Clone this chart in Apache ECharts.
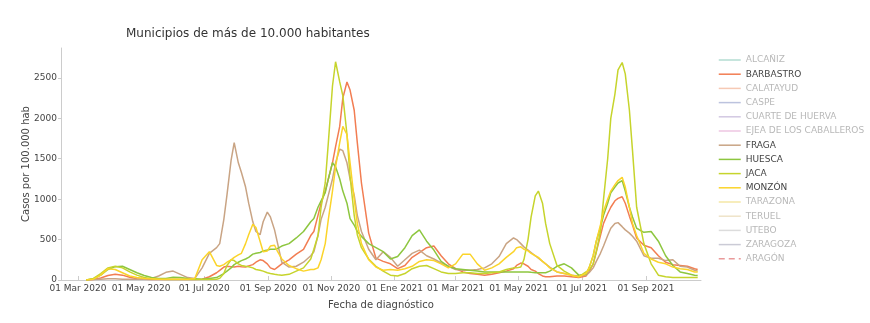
<!DOCTYPE html>
<html><head><meta charset="utf-8">
<script src="https://cdn.jsdelivr.net/npm/echarts@6/dist/echarts.min.js"></script>
<style>html,body{margin:0;padding:0;background:#fff}#c{width:870px;height:323px}</style>
</head><body><div id="c"></div>
<script>
const dates = [
 '2020-03-09','2020-03-16','2020-03-23','2020-03-30','2020-04-06','2020-04-13','2020-04-20','2020-04-27','2020-05-04','2020-05-11','2020-05-18','2020-05-25','2020-06-01','2020-06-08','2020-06-15','2020-06-22','2020-06-29','2020-07-06','2020-07-13',
 '2020-07-16','2020-07-20','2020-07-23','2020-07-27','2020-07-30','2020-08-03','2020-08-06','2020-08-10','2020-08-13','2020-08-17','2020-08-20','2020-08-24','2020-08-27','2020-08-31','2020-09-03','2020-09-07','2020-09-10',
 '2020-09-14','2020-09-21','2020-09-28','2020-10-05','2020-10-12',
 '2020-10-15','2020-10-19','2020-10-22','2020-10-26','2020-10-29','2020-11-02','2020-11-05','2020-11-09','2020-11-12','2020-11-16','2020-11-19','2020-11-23','2020-11-26',
 '2020-11-30','2020-12-07','2020-12-14','2020-12-21','2020-12-28','2021-01-04','2021-01-11','2021-01-18','2021-01-25','2021-02-01','2021-02-08','2021-02-15','2021-02-22','2021-03-01','2021-03-08','2021-03-15','2021-03-22','2021-03-29','2021-04-05','2021-04-12','2021-04-19','2021-04-26',
 '2021-04-29','2021-05-03','2021-05-06','2021-05-10','2021-05-13','2021-05-17','2021-05-20','2021-05-24','2021-05-27',
 '2021-05-31','2021-06-07','2021-06-14','2021-06-21','2021-06-28','2021-07-05',
 '2021-07-08','2021-07-12','2021-07-15','2021-07-19','2021-07-22','2021-07-26','2021-07-29','2021-08-02','2021-08-05','2021-08-09','2021-08-12','2021-08-16','2021-08-19',
 '2021-08-23','2021-08-30','2021-09-06','2021-09-13','2021-09-20','2021-09-27','2021-10-04','2021-10-11','2021-10-18','2021-10-21'
];
const barbastro = [
 0,5,25,55,70,60,35,15,8,5,5,5,5,5,5,5,10,40,90,
 120,160,170,165,160,170,165,160,175,190,220,250,240,200,150,130,160,
 200,250,320,380,550,
 600,800,950,1100,1250,1450,1650,1900,2250,2450,2350,2100,1700,
 1200,580,270,230,200,140,180,280,340,400,420,300,200,140,100,80,70,60,70,90,110,140,
 180,210,200,170,130,110,80,50,40,
 40,50,50,40,30,50,
 100,200,350,550,700,820,900,980,1010,1030,950,790,680,
 520,430,400,300,220,190,180,170,140,130
];
const fraga = [
 0,5,10,15,15,10,10,10,10,20,50,95,110,70,30,20,150,330,400,
 450,750,1050,1480,1700,1450,1330,1150,950,720,600,560,720,840,780,620,450,
 220,160,170,220,300,
 350,550,750,900,1050,1250,1450,1620,1600,1450,1250,1050,800,
 600,380,250,350,280,170,250,330,370,300,260,210,170,130,120,120,130,150,200,290,450,520,
 500,450,410,370,340,300,270,230,200,
 160,100,80,60,50,60,
 90,150,230,330,420,550,640,700,710,660,620,580,540,
 480,300,270,270,240,250,170,160,120,110
];
const huesca = [
 0,15,60,130,165,170,130,90,55,30,20,20,35,30,20,15,10,20,30,
 50,80,110,150,190,220,240,260,280,320,330,340,360,370,380,380,390,
 420,450,520,600,720,
 760,900,980,1080,1250,1450,1400,1250,1100,950,760,680,600,
 540,450,400,350,260,290,400,550,620,480,370,230,170,140,130,120,110,100,100,100,100,100,
 100,100,100,100,95,90,90,90,90,
 110,170,200,150,60,70,
 150,300,480,650,800,950,1080,1150,1200,1230,1100,900,780,
 640,590,600,480,300,180,100,80,60,55
];
const jaca = [
 0,20,80,150,170,150,100,60,30,15,10,5,5,5,5,5,5,5,10,
 20,80,180,250,240,200,180,170,165,150,130,120,110,90,80,70,65,
 60,70,110,150,260,
 380,550,900,1200,1700,2400,2700,2450,2280,1800,1280,800,560,
 400,260,170,110,60,50,80,140,170,180,140,100,80,80,90,90,80,80,90,100,130,150,
 150,160,250,500,780,1040,1100,950,700,
 450,180,110,60,40,100,
 120,200,350,600,1000,1500,2000,2300,2600,2690,2550,2100,1600,
 900,450,200,60,40,30,30,30,30,30
];
const monzon = [
 0,10,60,140,130,90,50,30,20,15,10,10,10,10,10,20,250,350,180,
 170,190,220,250,280,310,330,450,560,690,650,480,350,360,420,430,350,
 260,180,140,110,130,
 130,150,250,450,750,1100,1400,1700,1900,1800,1450,1000,700,
 450,250,160,120,130,120,140,170,230,250,240,200,150,200,320,320,200,120,150,200,280,350,
 400,410,380,360,330,300,280,230,200,
 150,100,80,60,40,80,
 150,300,480,680,850,1000,1100,1180,1230,1270,1150,900,700,
 550,330,260,220,200,160,140,130,100,100
];
const seriesNames = ['ALCAÑIZ','BARBASTRO','CALATAYUD','CASPE','CUARTE DE HUERVA','EJEA DE LOS CABALLEROS','FRAGA','HUESCA','JACA','MONZÓN','TARAZONA','TERUEL','UTEBO','ZARAGOZA','ARAGÓN'];
const seriesValues = {'BARBASTRO':barbastro,'FRAGA':fraga,'HUESCA':huesca,'JACA':jaca,'MONZÓN':monzon};
const seriesColors = ['#b3ddd2','#f27d52','#f6c9b4','#bcc3de','#d2c8e2','#eec6e2','#c9a484','#8dc63f','#c6d42c','#fbd42a','#f5e7a6','#efe3c8','#dcdcdc','#cbcbd6','#e99a9a'];
const tickDates = ['2020-03-01','2020-05-01','2020-07-01','2020-09-01','2020-11-01','2021-01-01','2021-03-01','2021-05-01','2021-07-01','2021-09-01'];
const tickLabels = ['01 Mar 2020','01 May 2020','01 Jul 2020','01 Sep 2020','01 Nov 2020','01 Ene 2021','01 Mar 2021','01 May 2021','01 Jul 2021','01 Sep 2021'];
const yTicks = [0,500,1000,1500,2000,2500];

function ts(s){const p=s.split('-').map(Number);return Date.UTC(p[0],p[1]-1,p[2]);}
const DAY=86400000;
const xMin = ts('2020-03-01') - 16.4*DAY;
const xMax = ts('2020-03-01') + 602.2*DAY;
const tickTs = tickDates.map(ts);
const FONT='DejaVu Sans';

const series = seriesNames.map((n,i)=>{
  const v = seriesValues[n];
  return {
    name:n, type:'line', showSymbol:false, symbol:'none', smooth:false,
    data: v ? dates.map((d,j)=>[ts(d), v[j]]) : [],
    lineStyle:{width:1.5, color:seriesColors[i], type: n==='ARAGÓN' ? [6,4] : 'solid'},
    itemStyle:{color:seriesColors[i]},
    emphasis:{disabled:true}, animation:false
  };
});

const chart = echarts.init(document.getElementById('c'), null, {renderer:'canvas'});
chart.setOption({
  backgroundColor:'#fff',
  animation:false,
  title:{text:'Municipios de más de 10.000 habitantes', left:126, top:28, padding:0,
    textStyle:{fontFamily:FONT, fontSize:12, fontWeight:'normal', color:'#333'}},
  legend:{orient:'vertical', left:718, top:55, itemWidth:22, itemHeight:10, itemGap:4.2, selectedMode:false, padding:0,
    itemStyle:{opacity:0, borderWidth:0},
    lineStyle:{width:1.5},
    data: seriesNames.map(n=>({name:n, textStyle:{color: seriesValues[n] ? '#444' : '#b8b8b8'}})),
    textStyle:{fontFamily:FONT, fontSize:9, lineHeight:10}},
  grid:{left:61, right:169, top:48, bottom:43, containLabel:false},
  xAxis:{type:'value', min:xMin, max:xMax,
    name:'Fecha de diagnóstico', nameLocation:'middle', nameGap:20, nameMoveOverlap:false,
    nameTextStyle:{fontFamily:FONT, fontSize:10, color:'#444'},
    axisLine:{show:true, onZero:false, lineStyle:{color:'#ccc', width:1}},
    axisTick:{show:true, inside:true, length:4, customValues:tickTs, lineStyle:{color:'#ccc'}},
    axisLabel:{customValues:tickTs, margin:4, fontFamily:FONT, fontSize:9, color:'#444', hideOverlap:false,
      formatter:(val)=>{let bi=0,bd=Infinity;tickTs.forEach((t,i)=>{const d=Math.abs(t-val);if(d<bd){bd=d;bi=i;}});return tickLabels[bi];}},
    splitLine:{show:false}},
  yAxis:{type:'value', min:0, max:2870,
    name:'Casos por 100.000 hab', nameLocation:'middle', nameGap:30, nameRotate:90, nameMoveOverlap:false,
    nameTextStyle:{fontFamily:FONT, fontSize:10, color:'#444'},
    axisLine:{show:true, lineStyle:{color:'#ccc', width:1}},
    axisTick:{show:true, length:3, customValues:yTicks, lineStyle:{color:'#ccc'}},
    axisLabel:{customValues:yTicks, margin:4, fontFamily:FONT, fontSize:9, color:'#444', formatter:(v)=>String(v)},
    splitLine:{show:false}},
  series: series
});
</script>
</body></html>
